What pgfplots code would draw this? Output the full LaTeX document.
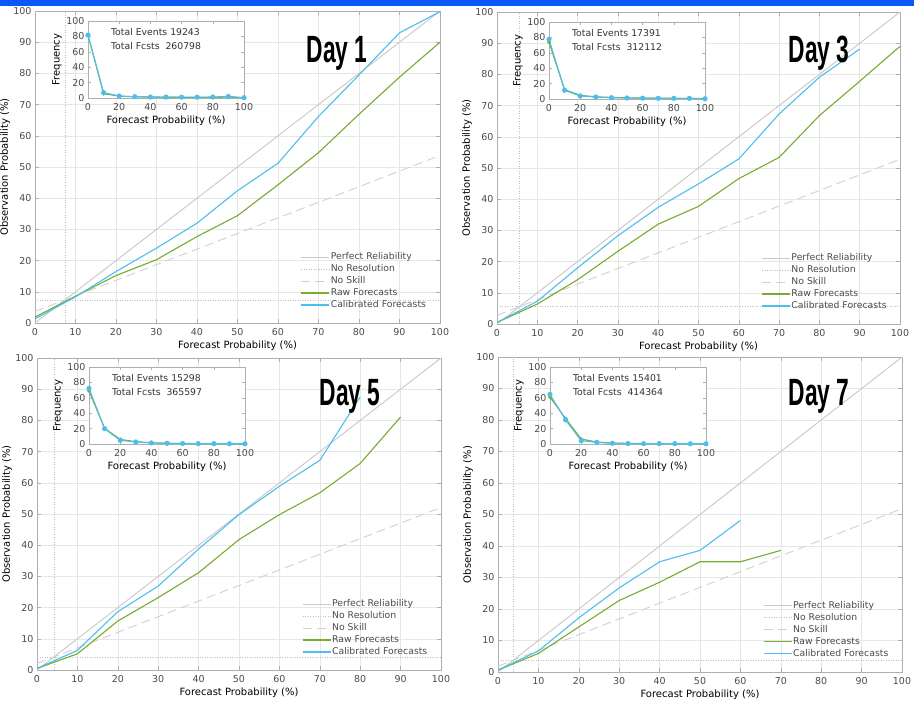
\documentclass[border=0pt]{standalone}
\usepackage{pgfplots}
\pgfplotsset{compat=1.18}
\usepackage{fontspec}
\setmainfont{DejaVu Sans}
\newfontfamily\dayfont{Liberation Sans}

\definecolor{rawgreen}{RGB}{119,172,48}
\definecolor{calblue}{RGB}{77,190,238}
\definecolor{perfgray}{RGB}{200,200,200}
\definecolor{skillgray}{RGB}{208,208,208}
\definecolor{resgray}{RGB}{190,190,190}
\definecolor{boxgray}{RGB}{175,175,175}
\definecolor{gridgray}{RGB}{230,230,230}
\definecolor{labgray}{RGB}{75,75,75}
\definecolor{barblue}{RGB}{10,88,245}

\newcommand{\tickfont}{\fontsize{9.5}{11}\selectfont}
\newcommand{\labfont}{\fontsize{10}{12}\selectfont}
\newcommand{\legfont}{\fontsize{9.3}{11}\selectfont}

\pgfplotsset{
  mainax/.style={
    scale only axis,
    xmin=0, xmax=100, ymin=0, ymax=100,
    xtick={0,10,...,100}, ytick={0,10,...,100},
    tick align=inside, major tick length=4pt,
    grid=major, major grid style={draw=gridgray, line width=0.6pt},
    axis line style={draw=boxgray, line width=0.6pt},
    tick style={draw=boxgray, line width=0.6pt},
    /pgf/number format/assume math mode=true,
    tick label style={font=\tickfont, text=labgray},
    xticklabel style={yshift=-1.5pt},
    label style={font=\labfont, text=labgray},
    xlabel={Forecast Probability (\%)},
    ylabel={Observation Probability (\%)},
    every axis x label/.style={at={([yshift=-23pt]rel axis cs:0.5,0)}, anchor=center},
    every axis y label/.style={at={([xshift=-30pt]rel axis cs:0,0.5)}, anchor=center, rotate=90},
    legend cell align=left,
    legend style={draw=none, fill=none, font=\legfont, text=labgray,
      at={(0.655,0.2276)}, anchor=north west, inner sep=0pt, row sep=2pt,
      nodes={inner sep=0.5pt, text height=7pt, text depth=2pt}},
    legend image code/.code={\draw[#1] (0pt,0pt) -- (28pt,0pt);},
  },
  insetax/.style={
    scale only axis, width=156pt, height=77pt,
    xmin=0, xmax=100, ymin=0, ymax=100,
    xtick={0,20,...,100}, ytick={0,20,...,100},
    axis background/.style={fill=white},
    tick align=inside, major tick length=3pt,
    axis line style={draw=boxgray, line width=0.6pt},
    tick style={draw=boxgray, line width=0.6pt},
    /pgf/number format/assume math mode=true,
    tick label style={font=\tickfont, text=labgray},
    xticklabel style={yshift=-1.5pt},
    label style={font=\labfont, text=labgray},
    xlabel={Forecast Probability (\%)},
    ylabel={Frequency},
    every axis x label/.style={at={([yshift=-23pt]rel axis cs:0.5,0)}, anchor=center},
    every axis y label/.style={at={([xshift=-31pt]rel axis cs:0,0.5)}, anchor=center, rotate=90},
  },
  perf/.style={draw=perfgray, line width=0.9pt},
  nores/.style={draw=resgray, line width=0.7pt, dash pattern=on 0.7pt off 1.8pt},
  noskill/.style={draw=skillgray, line width=0.9pt, dash pattern=on 9pt off 5pt},
  rawline/.style={draw=rawgreen, line width=1.1pt, legend image post style={line width=1.8pt}},
  calline/.style={draw=calblue, line width=1.1pt, legend image post style={line width=1.8pt}},
  rawfreq/.style={draw=rawgreen, line width=1.1pt, mark=*, mark size=1.3pt, mark options={fill=rawgreen, draw=rawgreen}},
  calfreq/.style={draw=calblue, line width=1.1pt, mark=*, mark size=2pt, mark options={fill=calblue, draw=calblue}},
}

\newcommand{\countsnode}[2]{%
  \node[anchor=west, font=\fontsize{9.3}{11}\selectfont, text=black!80, inner sep=0pt]
    at (rel axis cs:0.147,0.857) {Total Events #1};
  \node[anchor=west, font=\fontsize{9.3}{11}\selectfont, text=black!80, inner sep=0pt]
    at (rel axis cs:0.147,0.675) {Total Fcsts\ \ #2};
}

\begin{document}
\begin{tikzpicture}
\useasboundingbox (0pt,0pt) rectangle (914pt,-702pt);
\fill[white] (0pt,0pt) rectangle (914pt,-702pt);

% ---------------- Day 1 ----------------
\begin{axis}[mainax, width=405pt, height=312pt, at={(35pt,-323pt)}, anchor=south west]
  \addplot[perf] coordinates {(0,0) (100,100)};
  \addplot[nores] coordinates {(0,7.38) (100,7.38)};
  \addplot[nores, forget plot] coordinates {(7.38,0) (7.38,100)};
  \addplot[noskill] coordinates {(0,3.69) (100,53.69)};
  \addplot[rawline] coordinates {(0,1.9) (10,8.6) (20,15.2) (30,20.3) (40,27.7) (50,34.4) (60,44.3) (70,54.6) (80,66.9) (90,78.8) (100,90)};
  \addplot[calline] coordinates {(0,1.3) (10,8.4) (20,16.5) (30,24) (40,32) (50,42.4) (60,51.2) (70,66.2) (80,79.5) (90,93) (100,99.8)};
  \legend{Perfect Reliability, No Resolution, No Skill, Raw Forecasts, Calibrated Forecasts}
\end{axis}
\begin{axis}[insetax, at={(88pt,-98pt)}, anchor=south west]
  \addplot[rawfreq] coordinates {(0,82) (10,5.6) (20,2.5) (30,1.5) (40,1.2) (50,1) (60,0.9) (70,0.8) (80,0.8) (90,1.2) (100,0.4)};
  \addplot[calfreq] coordinates {(0,81.7) (10,7) (20,2.6) (30,1.7) (40,1.3) (50,1.2) (60,1.1) (70,1.1) (80,1.3) (90,2) (100,0.4)};
  \countsnode{19243}{260798}
\end{axis}

% ---------------- Day 3 ----------------
\begin{axis}[mainax, width=403pt, height=312pt, at={(497pt,-324pt)}, anchor=south west]
  \addplot[perf] coordinates {(0,0) (100,100)};
  \addplot[nores] coordinates {(0,5.57) (100,5.57)};
  \addplot[nores, forget plot] coordinates {(5.57,0) (5.57,100)};
  \addplot[noskill] coordinates {(0,2.79) (100,52.79)};
  \addplot[rawline] coordinates {(0,0.5) (10,6.4) (20,14.2) (30,23.3) (40,32) (50,37.7) (60,46.6) (70,53.4) (80,66.8) (90,77.8) (100,89)};
  \addplot[calline] coordinates {(0,0.5) (10,7.3) (20,18) (30,28.3) (40,37.4) (50,44.9) (60,52.9) (70,67.3) (80,79.1) (90,88.1)};
  \legend{Perfect Reliability, No Resolution, No Skill, Raw Forecasts, Calibrated Forecasts}
\end{axis}
\begin{axis}[insetax, at={(549pt,-99pt)}, anchor=south west]
  \addplot[rawfreq] coordinates {(0,74) (10,12) (20,4.8) (30,2.8) (40,2) (50,1.5) (60,1.2) (70,1) (80,0.9) (90,0.8) (100,0.6)};
  \addplot[calfreq] coordinates {(0,77.5) (10,11.3) (20,3.9) (30,2.6) (40,1.7) (50,1.3) (60,1.1) (70,0.9) (80,0.9) (90,0.8) (100,0.3)};
  \countsnode{17391}{312112}
\end{axis}

% ---------------- Day 5 ----------------
\begin{axis}[mainax, width=404pt, height=312pt, at={(37pt,-670pt)}, anchor=south west]
  \addplot[perf] coordinates {(0,0) (100,100)};
  \addplot[nores] coordinates {(0,4.18) (100,4.18)};
  \addplot[nores, forget plot] coordinates {(4.18,0) (4.18,100)};
  \addplot[noskill] coordinates {(0,2.09) (100,52.09)};
  \addplot[rawline] coordinates {(0,0.5) (10,5.2) (20,15.7) (30,23.2) (40,31.2) (50,41.8) (60,49.8) (70,56.8) (80,66.2) (90,81.1)};
  \addplot[calline] coordinates {(0,0.5) (10,6.3) (20,18.7) (30,26.9) (40,38.8) (50,49.8) (60,58.9) (70,67.2) (80,87.5)};
  \legend{Perfect Reliability, No Resolution, No Skill, Raw Forecasts, Calibrated Forecasts}
\end{axis}
\begin{axis}[insetax, at={(89pt,-444pt)}, anchor=south west]
  \addplot[rawfreq] coordinates {(0,69) (10,20.3) (20,6) (30,3) (40,1.7) (50,1) (60,0.7) (70,0.5) (80,0.4) (90,0.3) (100,0.2)};
  \addplot[calfreq] coordinates {(0,72.3) (10,19.9) (20,4.8) (30,2.6) (40,1.3) (50,0.9) (60,0.6) (70,0.5) (80,0.4) (90,0.3) (100,0.3)};
  \countsnode{15298}{365597}
\end{axis}

% ---------------- Day 7 ----------------
\begin{axis}[mainax, width=404pt, height=315pt, at={(498pt,-672pt)}, anchor=south west]
  \addplot[perf] coordinates {(0,0) (100,100)};
  \addplot[nores] coordinates {(0,3.72) (100,3.72)};
  \addplot[nores, forget plot] coordinates {(3.72,0) (3.72,100)};
  \addplot[noskill] coordinates {(0,1.86) (100,51.86)};
  \addplot[rawline] coordinates {(0,0.6) (10,5.9) (20,14.3) (30,22.7) (40,28.5) (50,35) (60,35) (70,38.6)};
  \addplot[calline] coordinates {(0,0.6) (10,6.7) (20,17.2) (30,26.7) (40,35) (50,38.6) (60,48.1)};
  \legend{Perfect Reliability, No Resolution, No Skill, Raw Forecasts, Calibrated Forecasts}
\end{axis}
\begin{axis}[insetax, at={(550pt,-444pt)}, anchor=south west]
  \addplot[rawfreq] coordinates {(0,61) (10,33) (20,6.4) (30,2.6) (40,1.3) (50,0.8) (60,0.6) (70,0.5) (80,0.4) (90,0.3) (100,0.3)};
  \addplot[calfreq] coordinates {(0,64.4) (10,31.3) (20,4.3) (30,2.1) (40,0.9) (50,0.6) (60,0.5) (70,0.5) (80,0.4) (90,0.3) (100,0.3)};
  \countsnode{15401}{414364}
\end{axis}

% panel headings
\tikzset{dayhead/.style={anchor=base, inner sep=0pt, font=\dayfont\bfseries\fontsize{38}{40}\selectfont}}
\node[dayhead] at (337pt,-62pt) {\scalebox{0.6}[1]{Day 1}};
\node[dayhead] at (819pt,-62pt) {\scalebox{0.6}[1]{Day 3}};
\node[dayhead] at (350pt,-405pt) {\scalebox{0.6}[1]{Day 5}};
\node[dayhead] at (819pt,-405pt) {\scalebox{0.6}[1]{Day 7}};

% window strip along the top edge
\fill[barblue] (0pt,0pt) rectangle (914pt,-6pt);
\end{tikzpicture}
\end{document}
